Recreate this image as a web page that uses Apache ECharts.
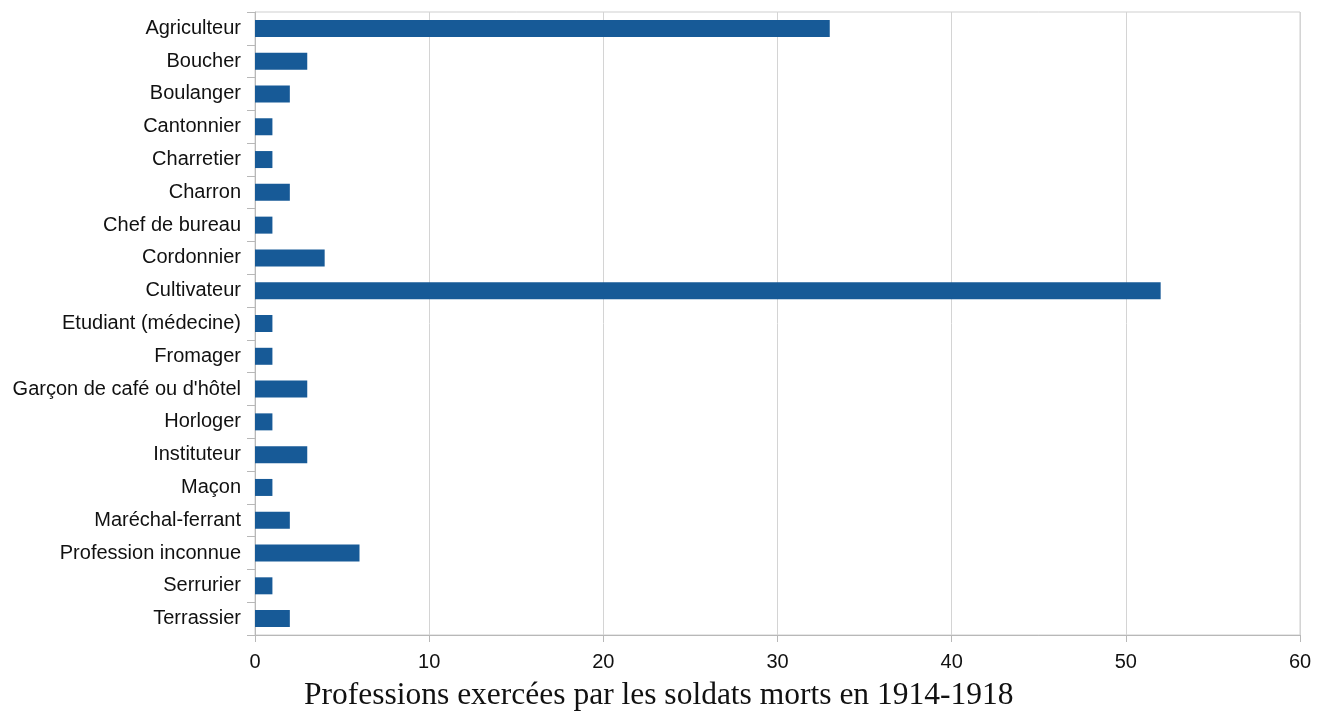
<!DOCTYPE html>
<html>
<head>
<meta charset="utf-8">
<script src="https://cdn.jsdelivr.net/npm/echarts@6/dist/echarts.min.js"></script>
<style>
    html, body { margin: 0; padding: 0; background: #fff; }
    #chart { width: 1327px; height: 713px; }
</style>
</head>
<body>
<div id="chart"></div>
<script>
    // professions, de haut en bas
    var professions = [
        'Agriculteur', 'Boucher', 'Boulanger', 'Cantonnier', 'Charretier', 'Charron',
        'Chef de bureau', 'Cordonnier', 'Cultivateur', 'Etudiant (médecine)', 'Fromager',
        "Garçon de café ou d'hôtel", 'Horloger', 'Instituteur', 'Maçon',
        'Maréchal-ferrant', 'Profession inconnue', 'Serrurier', 'Terrassier'
    ];
    var nombres = [33, 3, 2, 1, 1, 2, 1, 4, 52, 1, 1, 3, 1, 3, 1, 2, 6, 1, 2];
    var titre = 'Professions exercées par les soldats morts en 1914-1918';

    var myChart = echarts.init(document.getElementById('chart'));
    var option = {
        animation: false,
        title: {
            text: titre,
            left: 299,
            top: 675,
            textStyle: {
                fontFamily: 'Liberation Serif',
                fontWeight: 'normal',
                fontSize: 31.5,
                color: '#111'
            }
        },
        grid: {
            left: 255,
            right: 27,
            top: 12,
            bottom: 78,
            show: true,
            borderColor: '#cfcfcf',
            borderWidth: 1
        },
        xAxis: {
            type: 'value',
            min: 0,
            max: 60,
            interval: 10,
            axisLine: { show: true, lineStyle: { color: '#b8b8b8' } },
            axisTick: { show: true, length: 7, lineStyle: { color: '#b8b8b8' } },
            splitLine: { show: true, lineStyle: { color: '#d4d4d4' } },
            axisLabel: {
                margin: 17,
                fontFamily: 'Liberation Sans',
                fontSize: 20,
                color: '#111'
            }
        },
        yAxis: {
            type: 'category',
            data: professions,
            inverse: true,
            axisLine: { show: true, lineStyle: { color: '#b8b8b8' } },
            axisTick: { show: true, length: 8, lineStyle: { color: '#b8b8b8' } },
            axisLabel: {
                interval: 0,
                margin: 14,
                padding: [3, 0, 0, 0],
                fontFamily: 'Liberation Sans',
                fontSize: 20,
                color: '#111'
            }
        },
        series: [{
            type: 'bar',
            data: nombres,
            barWidth: 17,
            itemStyle: { color: '#175a97' }
        }]
    };
    myChart.setOption(option);
</script>
</body>
</html>
